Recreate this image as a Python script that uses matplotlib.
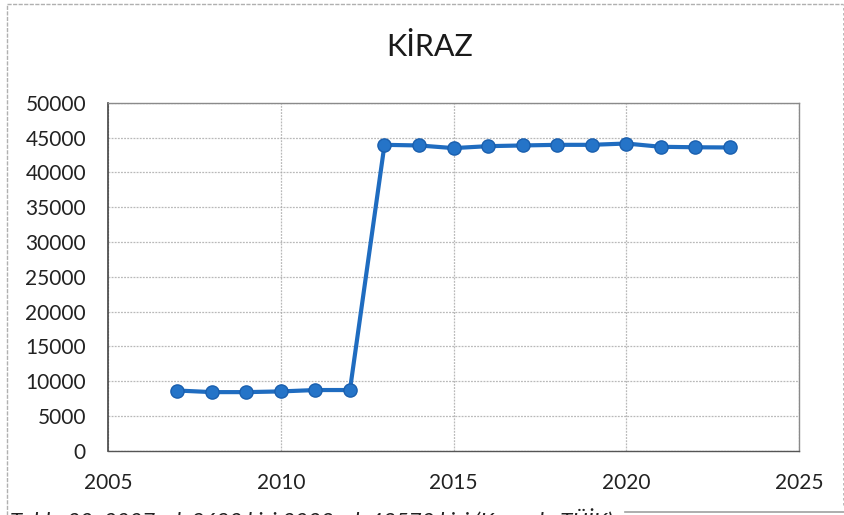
import matplotlib.pyplot as plt
from matplotlib.lines import Line2D

years = [2007, 2008, 2009, 2010, 2011, 2012, 2013, 2014, 2015,
         2016, 2017, 2018, 2019, 2020, 2021, 2022, 2023]
population = [8682, 8450, 8450, 8550, 8750, 8750, 43950, 43860, 43480,
              43760, 43860, 43950, 43950, 44140, 43670, 43600, 43572]

x_ticks = [2005, 2010, 2015, 2020, 2025]
y_ticks = list(range(0, 50001, 5000))

title = "KİRAZ"
caption = "Tablo 20: 2007 yılı 8682 kişi 2023 yılı 43572 kişi (Kaynak: TÜİK)"

plt.rcParams["font.family"] = ["Lato", "DejaVu Sans"]

fig = plt.figure(figsize=(8.45, 5.15), dpi=100)
ax = fig.add_axes([0.128, 0.1243, 0.8175, 0.6763])

ax.plot(years, population, color="#1f6cc0", lw=3, marker="o",
        markersize=9.5, markerfacecolor="#2574c8", markeredgecolor="#1a5fae",
        markeredgewidth=1, zorder=3)

ax.set_xlim(2005, 2025)
ax.set_ylim(0, 50000)
ax.set_xticks(x_ticks)
ax.set_yticks(y_ticks)
ax.tick_params(length=0, labelsize=15, colors="#222222")
ax.tick_params(axis="x", pad=16)
ax.tick_params(axis="y", pad=16)

ax.grid(True, color="#a8a8a8", lw=0.9, ls=(0, (1.5, 1)), alpha=0.8)
for side in ["top", "right", "bottom"]:
    ax.spines[side].set_color("#8a8a8a")
    ax.spines[side].set_linewidth(1)
ax.spines["left"].set_color("#444444")
ax.spines["left"].set_linewidth(1.2)
ax.spines["bottom"].set_color("#555555")

fig.text(0.509, 0.909, title, ha="center", va="center", fontsize=22,
         color="#1a1a1a")

# chart area border of the scanned page
border = "#b0b0b0"
fig.add_artist(Line2D([0.008, 0.008], [0.0, 0.992], color=border, lw=1,
                      ls=(0, (3, 1))))
fig.add_artist(Line2D([0.008, 0.998], [0.992, 0.992], color=border, lw=1,
                      ls=(0, (3, 1))))
fig.add_artist(Line2D([0.998, 0.998], [0.02, 0.992], color=border, lw=0.6,
                      ls=(0, (3, 3))))

# caption, cut off at the bottom edge like the scan
fig.text(0.012, 1 - 508 / 515, caption, ha="left", va="top", fontsize=16,
         style="italic", color="#222222")
fig.add_artist(Line2D([0.74, 1.0], [1 - 512 / 515, 1 - 512 / 515],
                      color="#a0a0a0", lw=1.2))

fig.savefig("out.png", dpi=100)
